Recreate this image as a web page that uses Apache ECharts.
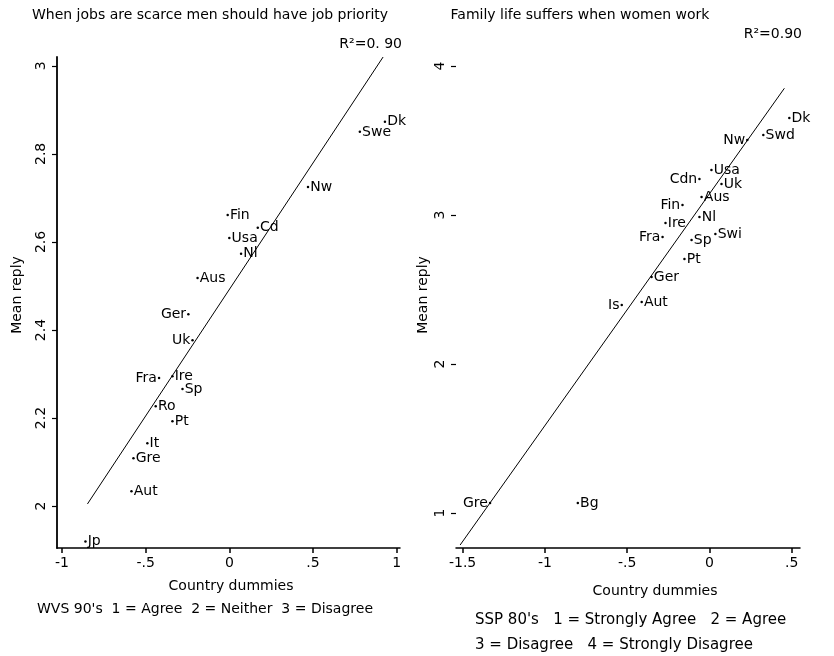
<!DOCTYPE html>
<html><head><meta charset="utf-8">
<script src="https://cdn.jsdelivr.net/npm/echarts@6/dist/echarts.min.js"></script>
<style>html,body{margin:0;padding:0;background:#fff}#c{width:834px;height:656px}</style>
</head><body><div id="c"></div>
<script>
// ---- Left panel: WVS 90's ----
const leftNames = ['Dk','Swe','Nw','Fin','Cd','Usa','Nl','Aus','Ger','Uk','Fra','Ire','Sp','Ro','Pt','It','Gre','Aut','Jp'];
const leftX = [0.93,0.78,0.47,-0.01,0.17,0.0,0.07,-0.19,-0.245,-0.22,-0.42,-0.34,-0.28,-0.44,-0.34,-0.49,-0.573,-0.585,-0.86];
const leftY = [2.873,2.85,2.725,2.661,2.632,2.609,2.573,2.518,2.436,2.377,2.291,2.295,2.266,2.227,2.193,2.143,2.109,2.034,1.92];
const leftLabelOnLeft = ['Ger','Uk','Fra'];
const leftFitX = [-0.848, 0.919];
const leftFitY = [2.005, 3.02];
const leftXTicks = [-1,-0.5,0,0.5,1];
const leftYTicks = [2,2.2,2.4,2.6,2.8,3];

// ---- Right panel: ISSP 80's ----
const rightNames = ['Dk','Swd','Nw','Usa','Cdn','Uk','Aus','Fin','Ire','Nl','Fra','Sp','Swi','Pt','Ger','Aut','Is','Gre','Bg'];
const rightX = [0.485,0.327,0.23,0.012,-0.061,0.073,-0.048,-0.164,-0.267,-0.061,-0.285,-0.109,0.036,-0.152,-0.352,-0.412,-0.533,-1.333,-0.8];
const rightY = [3.651,3.537,3.503,3.302,3.242,3.208,3.121,3.067,2.946,2.987,2.852,2.832,2.872,2.705,2.584,2.416,2.396,1.067,1.067];
const rightLabelOnLeft = ['Nw','Cdn','Fin','Fra','Is','Gre'];
const rightFitX = [-1.515, 0.455];
const rightFitY = [0.785, 3.85];
const rightXTicks = [-1.5,-1,-0.5,0,0.5];
const rightYTicks = [1,2,3,4];

const FONT = '"DejaVu Sans", Verdana, sans-serif';
const FS = 14;
const fmt = v => String(v).replace(/^(-?)0\./, '$1.');

function pts(names, xs, ys, onLeft) {
  return names.map((n, i) => ({
    name: n, value: [xs[i], ys[i]],
    label: { position: onLeft.includes(n) ? 'left' : 'right' }
  }));
}
function xAxis(idx, min, max, ticks) {
  return {
    type: 'value', gridIndex: idx, min, max, position: 'bottom',
    axisLine: { show: true, onZero: false, lineStyle: { color: '#000', width: 1.5 } },
    axisTick: { show: true, customValues: ticks, length: 5, lineStyle: { color: '#000', width: 1.5 } },
    axisLabel: { customValues: ticks, formatter: fmt, color: '#000', fontSize: 14, fontFamily: FONT, margin: 8 },
    splitLine: { show: false }
  };
}
function yAxis(idx, min, max, ticks, showLine) {
  return {
    type: 'value', gridIndex: idx, min, max,
    axisLine: { show: showLine, onZero: false, lineStyle: { color: '#000', width: 1.8 } },
    axisTick: { show: true, customValues: ticks, length: 5, lineStyle: { color: '#000', width: 1.2 } },
    axisLabel: { customValues: ticks, rotate: 90, formatter: fmt, color: '#000', fontSize: 14, fontFamily: FONT, margin: 9 },
    splitLine: { show: false }
  };
}
function scatter(idx, data) {
  return {
    type: 'scatter', xAxisIndex: idx, yAxisIndex: idx, data,
    symbol: 'circle', symbolSize: 2.5, itemStyle: { color: '#000', opacity: 1 },
    label: { show: true, formatter: '{b}', distance: 1, color: '#000', opacity: 1, fontSize: FS, fontFamily: FONT, textBorderWidth: 0 },
    silent: true, animation: false
  };
}
function fit(idx, xs, ys) {
  return {
    type: 'line', xAxisIndex: idx, yAxisIndex: idx, data: xs.map((x, i) => [x, ys[i]]),
    symbol: 'none', lineStyle: { color: '#000', width: 1 }, silent: true, animation: false, z: 1
  };
}
const txt = (x, y, s, size, align, rot) => ({
  type: 'text', x, y, rotation: rot || 0,
  style: { text: s, fill: '#000', font: `${size}px ${FONT}`, textAlign: align || 'center', textVerticalAlign: 'middle' }
});

const chart = echarts.init(document.getElementById('c'), null, { renderer: 'canvas' });
chart.setOption({
  backgroundColor: '#fff',
  animation: false,
  grid: [
    { left: 57, top: 57, width: 343, height: 491 },
    { left: 456, top: 57, width: 344, height: 491 }
  ],
  xAxis: [xAxis(0, -1.03, 1.02, leftXTicks), xAxis(1, -1.54, 0.55, rightXTicks)],
  yAxis: [yAxis(0, 1.905, 3.02, leftYTicks, true), yAxis(1, 0.765, 4.06, rightYTicks, false)],
  series: [
    fit(0, leftFitX, leftFitY),
    scatter(0, pts(leftNames, leftX, leftY, leftLabelOnLeft)),
    fit(1, rightFitX, rightFitY),
    scatter(1, pts(rightNames, rightX, rightY, rightLabelOnLeft))
  ],
  graphic: [
    txt(210, 15, 'When jobs are scarce men should have job priority', 14),
    txt(580, 15, 'Family life suffers when women work', 14),
    txt(402, 44, 'R²=0. 90', 14, 'right'),
    txt(802, 34, 'R²=0.90', 14, 'right'),
    txt(17, 295, 'Mean reply', 14, 'center', Math.PI / 2),
    txt(423, 295, 'Mean reply', 14, 'center', Math.PI / 2),
    txt(231, 586, 'Country dummies', 14),
    txt(655, 591, 'Country dummies', 14),
    txt(205, 609, "WVS 90's  1 = Agree  2 = Neither  3 = Disagree", 14),
    txt(475, 620, "SSP 80's   1 = Strongly Agree   2 = Agree", 15, 'left'),
    txt(475, 645, '3 = Disagree   4 = Strongly Disagree', 15, 'left')
  ]
});
</script>
</body></html>
